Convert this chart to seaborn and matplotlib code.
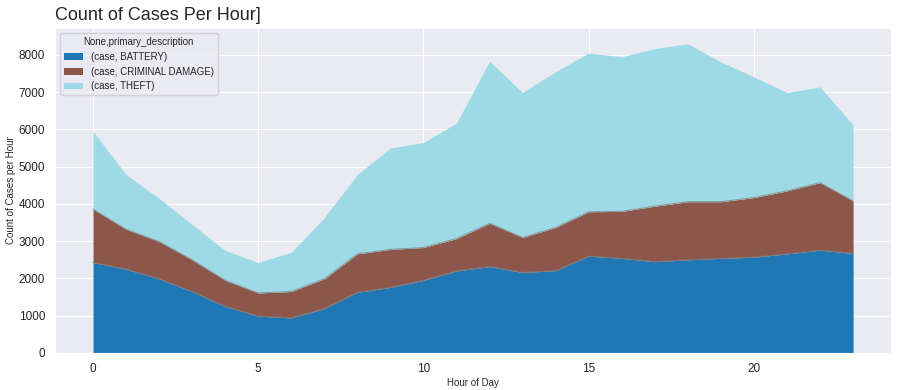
import numpy as np
import pandas as pd
import matplotlib
matplotlib.use("Agg")
import matplotlib.pyplot as plt
import seaborn as sns

# hourly counts
hours = list(range(24))
battery = [2430, 2250, 1990, 1650, 1250, 990, 940, 1190, 1630, 1760, 1950, 2200,
           2320, 2160, 2210, 2600, 2540, 2450, 2500, 2540, 2570, 2660, 2760, 2670]
criminal_damage = [1430, 1070, 1000, 850, 700, 620, 710, 800, 1030, 1020, 880, 870,
                   1160, 940, 1160, 1190, 1260, 1490, 1560, 1520, 1600, 1690, 1810, 1410]
theft = [2090, 1470, 1160, 950, 800, 820, 1050, 1640, 2130, 2720, 2820, 3100,
         4350, 3890, 4180, 4260, 4150, 4230, 4240, 3750, 3240, 2640, 2570, 2040]
series_labels = ["(case, BATTERY)", "(case, CRIMINAL DAMAGE)", "(case, THEFT)"]
colors = ["#1f77b4", "#8c564b", "#9edae5"]

df = pd.DataFrame({"BATTERY": battery,
                   "CRIMINAL DAMAGE": criminal_damage,
                   "THEFT": theft}, index=hours)

sns.set_style("darkgrid")
plt.rcParams["font.family"] = ["Liberation Sans", "DejaVu Sans"]

fig, ax = plt.subplots(figsize=(9.01, 3.90), dpi=100)
fig.subplots_adjust(left=0.061, right=0.989, bottom=0.095, top=0.928)

ax.stackplot(df.index, df.T.values, labels=series_labels, colors=colors,
             linewidth=0)
tops = df.cumsum(axis=1)
for col in tops.columns[:-1]:
    ax.plot(df.index, tops[col], color="#808080", lw=0.8, alpha=0.7)

ax.set_xlim(-1.15, 24.15)
ax.set_ylim(0, 8720)
ax.set_xticks([0, 5, 10, 15, 20])
ax.set_yticks(range(0, 9000, 1000))
ax.tick_params(labelsize=8.5, colors="#262626")
ax.tick_params(axis="x", pad=4)

ax.set_title("Count of Cases Per Hour]", loc="left", fontsize=13, color="#262626")
ax.set_xlabel("Hour of Day", fontsize=7, labelpad=2)
ax.set_ylabel("Count of Cases per Hour", fontsize=7, labelpad=2)

leg = ax.legend(title="None,primary_description", loc="upper left",
                fontsize=7, title_fontsize=7, frameon=True)

fig.savefig("out.png", dpi=100)
